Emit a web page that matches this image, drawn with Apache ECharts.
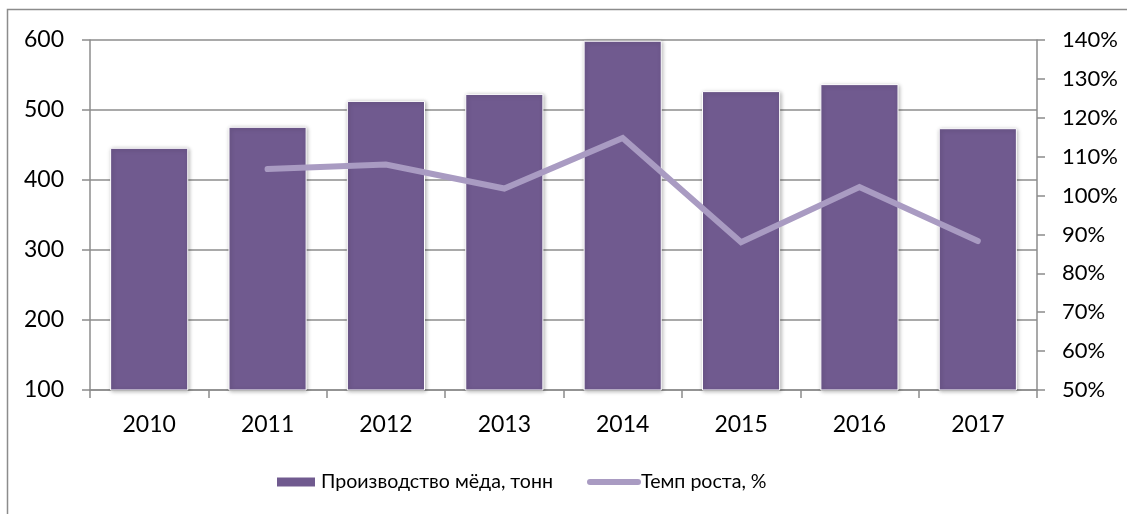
<!DOCTYPE html>
<html><head><meta charset="utf-8">
<script src="https://cdn.jsdelivr.net/npm/echarts@6/dist/echarts.min.js"></script>
<style>html,body{margin:0;padding:0;background:#fff}#c{width:1127px;height:514px}</style>
</head><body><div id="c"></div>
<script>
const categories = ['2010','2011','2012','2013','2014','2015','2016','2017'];
const production = [446, 476, 513, 523, 599, 527, 537, 474];
const growth = [null, 106.8, 108.0, 101.8, 114.8, 88.0, 102.2, 88.3];
const leftTicks = [100, 600, 100];
const rightTicks = [50, 140, 10];

const chart = echarts.init(document.getElementById('c'), null, {renderer:'canvas'});
const font = 'Lato, "Noto Sans", sans-serif';
const axisColor = '#8c8c8c';
const barName = 'Производство мёда, тонн';
const lineName = 'Темп роста, %';
chart.setOption({
  animation:false,
  graphic:[{type:'rect', shape:{x:7.5,y:9.5,width:1130,height:520}, style:{fill:'none', stroke:'#8c8c8c', lineWidth:1.5}, z:-1}],
  grid:{left:90, right:90, top:40, bottom:124},
  legend:[
    {top:467, left:270, itemWidth:40, itemHeight:11, itemGap:6,
     textStyle:{fontFamily:font, fontSize:19.6, color:'#000', padding:[0,0,0,0]},
     data:[{name:barName, icon:'rect'}]},
    {top:467, left:582, itemWidth:54, itemHeight:6, itemGap:0,
     textStyle:{fontFamily:font, fontSize:19.6, color:'#000', padding:[0,0,0,-5]},
     data:[{name:lineName, icon:'path://M3,0 H51 A3,3 0 0 1 51,6 H3 A3,3 0 0 1 3,0 Z', itemStyle:{color:'#a99bc2'}}]}
  ],
  xAxis:{
    type:'category', data:categories,
    axisLine:{lineStyle:{color:axisColor, width:1.5}},
    axisTick:{show:true, length:8, lineStyle:{color:axisColor, width:1.5}},
    axisLabel:{fontFamily:font, fontSize:23, color:'#000', margin:23}
  },
  yAxis:[
    {type:'value', min:leftTicks[0], max:leftTicks[1], interval:leftTicks[2],
     axisLine:{show:true, lineStyle:{color:axisColor, width:1.5}},
     axisTick:{show:true, length:8, lineStyle:{color:axisColor, width:1.5}},
     splitLine:{lineStyle:{color:axisColor, width:1.5}},
     axisLabel:{fontFamily:font, fontSize:23, color:'#000', margin:26}},
    {type:'value', min:rightTicks[0], max:rightTicks[1], interval:rightTicks[2],
     axisLine:{show:true, lineStyle:{color:axisColor, width:1.5}},
     axisTick:{show:true, length:8, lineStyle:{color:axisColor, width:1.5}},
     splitLine:{show:false},
     axisLabel:{fontFamily:font, fontSize:22, color:'#000', margin:25, formatter:'{value}%'}}
  ],
  series:[
    {name:barName, type:'bar', data:production, barCategoryGap:'34%',
     itemStyle:{color:'#705a8f', borderColor:'#ffffff', borderWidth:1, shadowBlur:4, shadowColor:'rgba(0,0,0,0.3)', shadowOffsetX:1, shadowOffsetY:1}},
    {name:lineName, type:'line', yAxisIndex:1, data:growth, showSymbol:false, symbol:'none',
     lineStyle:{color:'#a99bc2', width:6, cap:'round', join:'miter'}, itemStyle:{color:'#a99bc2'}, z:5}
  ]
});
</script></body></html>
